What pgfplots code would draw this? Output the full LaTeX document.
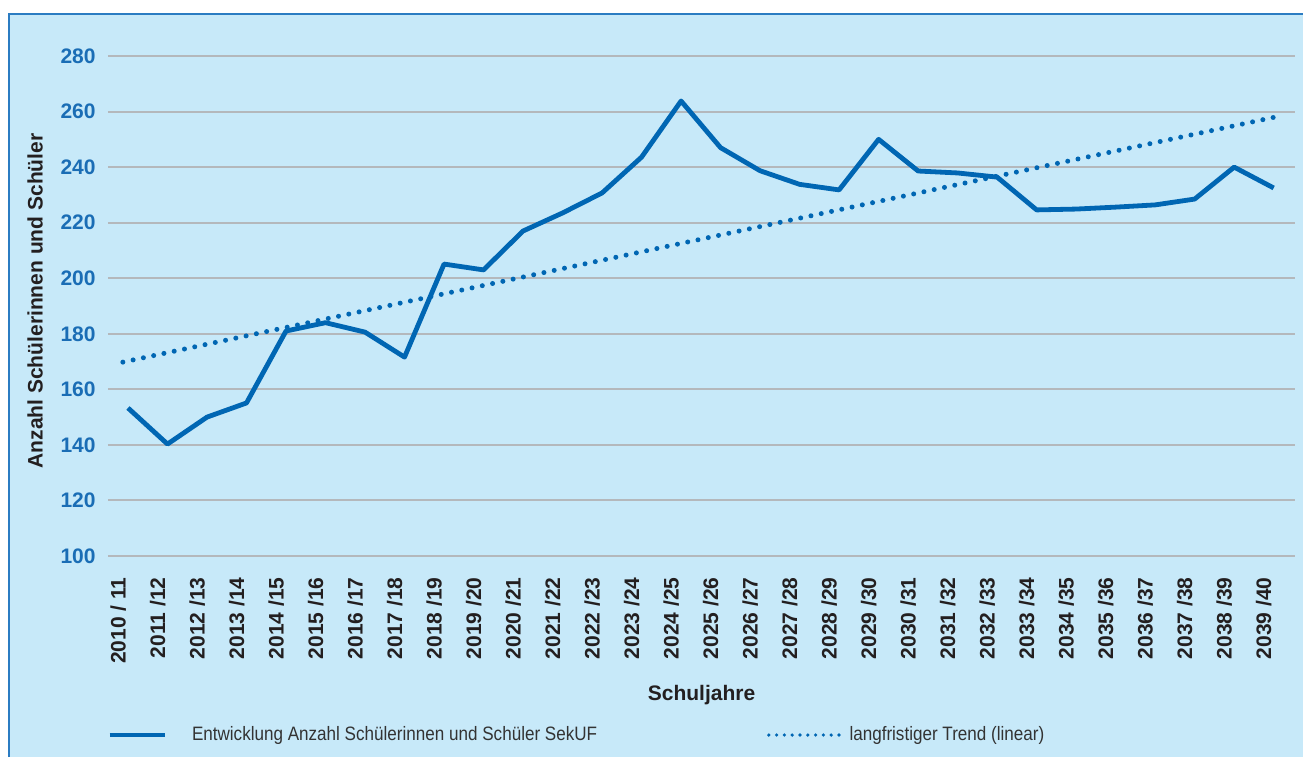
\documentclass[border=0pt]{standalone}
\usepackage{fontspec}
\setmainfont{Liberation Sans}
\newfontfamily\condfont[FakeStretch=0.88]{Liberation Sans}
\usepackage{pgfplots}
\pgfplotsset{compat=1.18}
\definecolor{bgblue}{HTML}{C7E9F9}
\definecolor{borderblue}{HTML}{2B7CC2}
\definecolor{mainblue}{HTML}{0066B3}
\definecolor{tickblue}{HTML}{1A6DB5}
\definecolor{gridgray}{HTML}{B4B8BC}
\definecolor{darktext}{HTML}{231F20}
\definecolor{legtext}{HTML}{333333}

\pgfplotstableread{
x y
0 153.3
1 140.3
2 150.0
3 155.1
4 181.0
5 184.0
6 180.6
7 171.6
8 205.1
9 203.0
10 217.0
11 223.5
12 230.7
13 243.6
14 263.8
15 247.0
16 238.7
17 233.8
18 231.8
19 250.0
20 238.6
21 237.9
22 236.4
23 224.6
24 224.9
25 225.6
26 226.4
27 228.5
28 240.0
29 232.5
}\maindata

\pgfplotstableread{
x y
-0.13 169.8
29.13 258.3
}\trenddata

\begin{document}
\begin{tikzpicture}
\useasboundingbox (0,0) rectangle (651.5pt,-378.5pt);
\fill[white] (0,0) rectangle (651.5pt,-378.5pt);
\fill[bgblue] (4.5pt,-7pt) rectangle (651.5pt,-378.5pt);
\draw[borderblue, line width=0.9pt] (4.5pt,-378.5pt) -- (4.5pt,-7pt) -- (651.5pt,-7pt);
\begin{axis}[
  at={(54pt,-278pt)}, anchor=south west,
  scale only axis, width=593.5pt, height=250pt,
  xmin=-0.506, xmax=29.54, ymin=100, ymax=280,
  axis line style={draw=none},
  tick style={draw=none},
  major tick length=0pt,
  ytick={100,120,...,280},
  ymajorgrids,
  grid style={gridgray, line width=1pt},
  /pgf/number format/assume math mode=true,
  yticklabel style={font=\bfseries\fontsize{10.5}{12}\selectfont, text=tickblue, inner sep=0pt},
  yticklabel shift=6pt,
  xtick={-0.25,0.75,...,28.75},
  xticklabels={2010 / 11,2011 /12,2012 /13,2013 /14,2014 /15,2015 /16,2016 /17,2017 /18,2018 /19,2019 /20,2020 /21,2021 /22,2022 /23,2023 /24,2024 /25,2025 /26,2026 /27,2027 /28,2028 /29,2029 /30,2030 /31,2031 /32,2032 /33,2033 /34,2034 /35,2035 /36,2036 /37,2037 /38,2038 /39,2039 /40},
  xticklabel style={rotate=90, anchor=east, inner sep=0pt, font=\bfseries\fontsize{10.5}{12}\selectfont, text=darktext},
  xticklabel shift=10.5pt,
  xlabel={Schuljahre},
  xlabel style={at={(axis description cs:0.5,-0.278)}, anchor=center, font=\bfseries\fontsize{10.5}{12}\selectfont, text=darktext},
  ylabel={Anzahl Schülerinnen und Schüler},
  ylabel style={at={(axis description cs:-0.0615,0.51)}, anchor=center, font=\bfseries\fontsize{10.5}{12}\selectfont, text=darktext},
  legend columns=2,
  legend style={at={(axis description cs:-0.001,-0.358)}, anchor=west, draw=none, fill=none, inner sep=0pt,
    /tikz/column sep=0pt, nodes={inner sep=0pt, text=legtext, font=\condfont\fontsize{9.7}{11}\selectfont}},
]
\addplot[mainblue, line width=2.4pt, line join=round,
  legend image code/.code={\draw[mainblue, line width=2.4pt] (0pt,0pt) -- (27.5pt,0pt); \path (40pt,0pt);}]
  table[x=x,y=y] {\maindata};
\addlegendentry{\makebox[287.5pt][l]{Entwicklung Anzahl Schülerinnen und Schüler SekUF}}
\addplot[mainblue, line width=2.5pt, line cap=round, dash pattern=on 0pt off 5.25pt,
  legend image code/.code={\draw[mainblue, line width=1.8pt, line cap=round, dash pattern=on 0pt off 3.9pt] (0.9pt,0pt) -- (36.5pt,0pt); \path (40pt,0pt);}]
  table[x=x,y=y] {\trenddata};
\addlegendentry{langfristiger Trend (linear)}
\end{axis}
\end{tikzpicture}
\end{document}
